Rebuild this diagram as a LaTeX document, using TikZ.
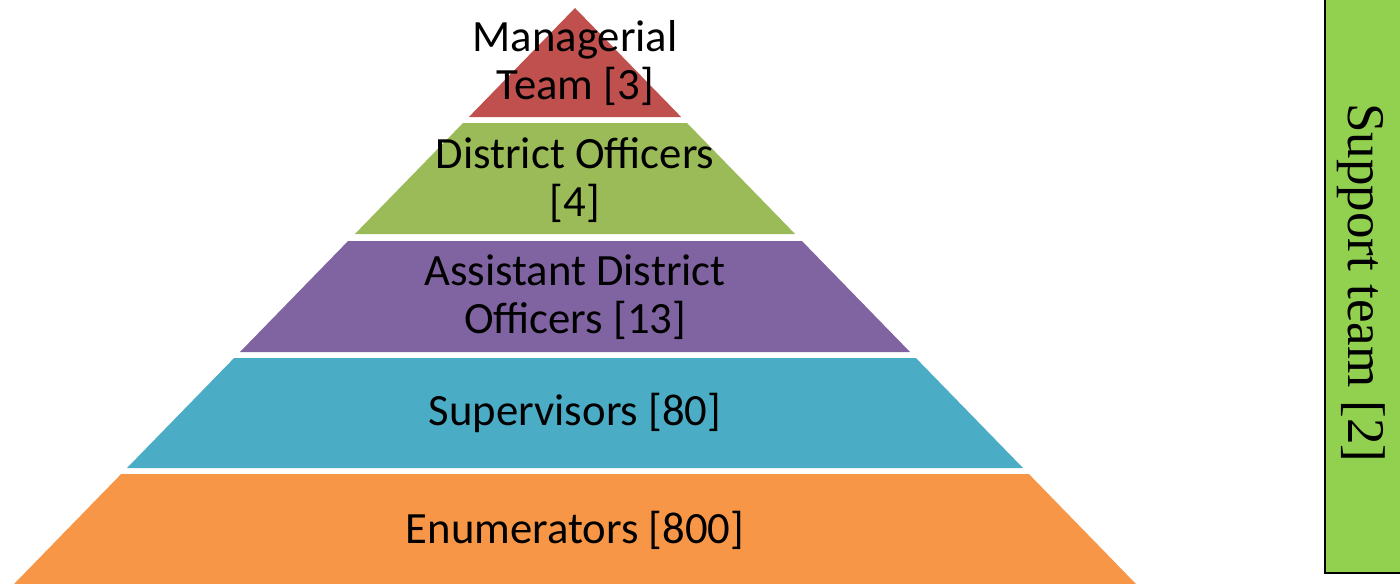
\documentclass[tikz,border=0pt]{standalone}
\usepackage{fontspec}
\setmainfont{Carlito}
\newfontfamily\supportserif{Liberation Serif}
\definecolor{pred}{HTML}{C0504D}
\definecolor{pgreen}{HTML}{9BBB59}
\definecolor{ppurple}{HTML}{8064A2}
\definecolor{pteal}{HTML}{4BACC6}
\definecolor{porange}{HTML}{F79646}
\definecolor{sgreen}{HTML}{92D050}
\newcommand{\pyrband}[3]{%
  \fill[#3] ({575-(#1-8)*0.97391},#1) -- ({575+(#1-8)*0.97391},#1)
    -- ({575+(#2-8)*0.97391},#2) -- ({575-(#2-8)*0.97391},#2) -- cycle;}
\tikzset{
  lbl/.style={align=center, text=black, inner sep=0pt,
    font=\fontsize{22.35}{24}\selectfont},
  supportbox/.style={draw=black, line width=1pt, fill=sgreen},
}
\begin{document}
\begin{tikzpicture}[x=0.5pt,y=-0.5pt]
\useasboundingbox (0,0) rectangle (1400,583);
\clip (0,0) rectangle (1400,583);
\pyrband{8}{117}{pred}
\pyrband{123}{234}{pgreen}
\pyrband{241}{352}{ppurple}
\pyrband{358}{468}{pteal}
\pyrband{474}{590}{porange}
\node[lbl] (managerial) at (575,63) {Managerial\\Team [3]};
\node[lbl] (district) at (575,180) {District Officers\\{[4]}};
\node[lbl] (assistant) at (575,297) {Assistant District\\Officers [13]};
\node[lbl] (supervisors) at (575,413) {Supervisors [80]};
\node[lbl] (enumerators) at (575,530) {Enumerators [800]};
\draw[supportbox] (1325,-20) rectangle (1430,573);
\node[rotate=-90, inner sep=0pt, font=\supportserif\fontsize{26.5}{30}\selectfont] (support) at (1361,283) {Support team [2]};
\end{tikzpicture}
\end{document}
